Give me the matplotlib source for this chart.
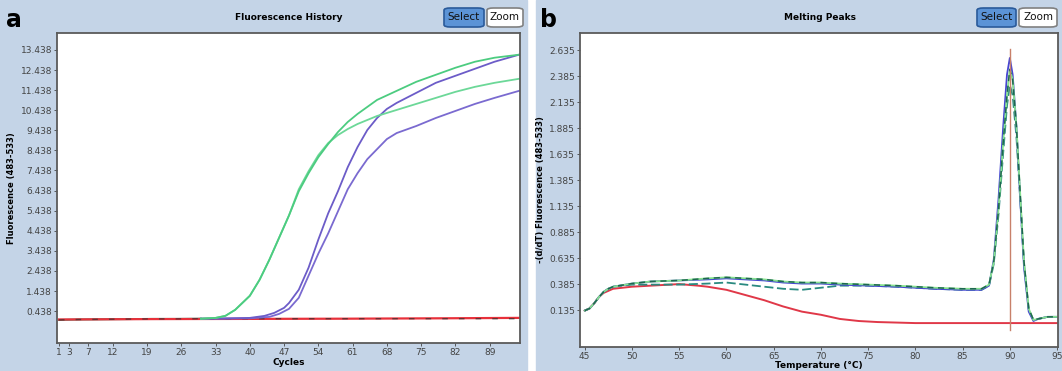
import matplotlib.pyplot as plt
from matplotlib.patches import Rectangle, FancyBboxPatch

# ---- panel a: amplification curves (cycle, fluorescence) ----
base_cyc = [1, 5, 10, 15, 20, 25, 30]
base_val = [0.0, 0.02, 0.03, 0.04, 0.05, 0.05, 0.06]

green1_cyc = [30, 33, 35, 37, 40, 42, 44, 46, 48, 50, 52, 54, 56, 58, 60, 62, 64, 66, 70, 74, 78, 82, 86, 90, 95]
green1_val = [0.06, 0.1, 0.2, 0.5, 1.2, 2.0, 3.0, 4.1, 5.2, 6.4, 7.3, 8.1, 8.75, 9.35, 9.85, 10.25, 10.6, 10.95,
              11.4, 11.85, 12.2, 12.55, 12.85, 13.05, 13.2]
green2_cyc = [30, 33, 35, 37, 40, 42, 44, 46, 48, 50, 52, 54, 56, 58, 60, 62, 64, 66, 70, 74, 78, 82, 86, 90, 95]
green2_val = [0.06, 0.1, 0.2, 0.5, 1.2, 2.0, 3.0, 4.1, 5.2, 6.5, 7.4, 8.2, 8.8, 9.2, 9.5, 9.75, 9.95, 10.15,
              10.45, 10.75, 11.05, 11.35, 11.6, 11.8, 12.0]
purple1_cyc = [30, 35, 40, 43, 45, 47, 48, 50, 52, 54, 56, 58, 60, 62, 64, 66, 68, 70, 74, 78, 82, 86, 90, 95]
purple1_val = [0.06, 0.07, 0.1, 0.2, 0.35, 0.6, 0.84, 1.5, 2.6, 4.0, 5.3, 6.4, 7.6, 8.6, 9.45, 10.05, 10.5, 10.8,
               11.3, 11.8, 12.15, 12.5, 12.85, 13.2]
purple2_cyc = [30, 35, 40, 44, 46, 48, 50, 52, 54, 56, 58, 60, 62, 64, 66, 68, 70, 74, 78, 82, 86, 90, 95]
purple2_val = [0.06, 0.07, 0.08, 0.15, 0.3, 0.55, 1.1, 2.2, 3.3, 4.3, 5.4, 6.5, 7.3, 8.0, 8.5, 9.0, 9.3, 9.65,
               10.05, 10.4, 10.75, 11.05, 11.4]
red_cyc = [1, 20, 40, 60, 80, 95]
red_val = [0.02, 0.04, 0.05, 0.06, 0.08, 0.1]

a_yticks = [0.438 + k for k in range(14)]
a_xticks = [1, 3, 7, 12, 19, 26, 33, 40, 47, 54, 61, 68, 75, 82, 89]

# ---- panel b: melting peaks (temperature, -dF/dT) ----
temp = [45, 45.5, 46, 46.5, 47, 47.5, 48, 50, 52, 55, 58, 60, 62, 64, 66, 68, 70, 72, 75, 78, 80, 82, 85, 87,
        87.8, 88.3, 88.8, 89.3, 89.7, 90.0, 90.3, 90.7, 91.1, 91.5, 92.0, 92.5, 93, 94, 95]
green_b = [0.13, 0.15, 0.2, 0.26, 0.31, 0.34, 0.36, 0.39, 0.41, 0.42, 0.44, 0.45, 0.44, 0.43, 0.41, 0.40, 0.40,
           0.39, 0.38, 0.37, 0.36, 0.35, 0.34, 0.34, 0.38, 0.6, 1.1, 1.75, 2.2, 2.45, 2.35, 1.9, 1.25, 0.6,
           0.15, 0.04, 0.05, 0.07, 0.07]
blue_b = [0.13, 0.15, 0.2, 0.26, 0.31, 0.34, 0.36, 0.39, 0.41, 0.42, 0.43, 0.44, 0.43, 0.42, 0.40, 0.39, 0.39,
          0.38, 0.37, 0.36, 0.35, 0.34, 0.33, 0.33, 0.37, 0.62, 1.2, 1.9, 2.4, 2.56, 2.4, 1.9, 1.2, 0.55,
          0.12, 0.03, 0.05, 0.07, 0.07]
teal_b = [0.13, 0.15, 0.2, 0.26, 0.31, 0.34, 0.36, 0.38, 0.38, 0.38, 0.39, 0.40, 0.38, 0.36, 0.34, 0.33, 0.35,
          0.37, 0.37, 0.36, 0.35, 0.34, 0.33, 0.33, 0.37, 0.58, 1.05, 1.65, 2.1, 2.3, 2.2, 1.8, 1.2, 0.58,
          0.14, 0.04, 0.05, 0.07, 0.07]
red_temp = [45, 45.5, 46, 46.5, 47, 47.5, 48, 50, 52, 55, 57, 58, 60, 62, 64, 66, 68, 70, 72, 74, 76, 80, 85, 90, 95]
red_b = [0.13, 0.15, 0.2, 0.26, 0.3, 0.32, 0.34, 0.36, 0.37, 0.385, 0.37, 0.36, 0.33, 0.28, 0.23, 0.17, 0.12,
         0.09, 0.05, 0.03, 0.02, 0.01, 0.01, 0.01, 0.01]
peak_temp = 90.0

b_yticks = [0.135 + 0.25 * k for k in range(11)]
b_xticks = [45, 50, 55, 60, 65, 70, 75, 80, 85, 90, 95]

W, H = 1062, 371
panel_bg = '#c4d4e7'
fig = plt.figure(figsize=(W / 100, H / 100), dpi=100, facecolor='white')


def px(x, y):
    return x / W, 1 - y / H


fig.add_artist(Rectangle((0, 0), 527 / W, 1, transform=fig.transFigure, color=panel_bg, zorder=-5))
fig.add_artist(Rectangle((536 / W, 0), 1 - 536 / W, 1, transform=fig.transFigure, color=panel_bg, zorder=-5))


def button(x0, x1, label, fill, edge):
    fig.add_artist(FancyBboxPatch(px(x0, 27), (x1 - x0) / W, 19 / H, boxstyle='round,pad=0,rounding_size=0.006',
                                  transform=fig.transFigure, facecolor=fill, edgecolor=edge, lw=1.2, zorder=2))
    fig.text((x0 + x1) / 2 / W, 1 - 17.5 / H, label, ha='center', va='center', fontsize=7.5, color='#111')


def style(ax):
    ax.set_facecolor('white')
    for s in ax.spines.values():
        s.set_color('#5a5a5a')
        s.set_linewidth(1.3)
    ax.tick_params(labelsize=6.5, colors='#444', length=2, width=0.6, pad=1.5)


# panel a
ax = fig.add_axes([57 / W, 1 - 343 / H, 463 / W, 310 / H])
style(ax)
ax.plot(base_cyc, base_val, color='#2a7a5a', lw=1.4)
ax.plot(red_cyc, red_val, color='#e8303a', lw=1.6)
ax.plot(base_cyc + [33, 40, 47, 54, 61, 68, 75, 82, 89, 95], base_val + [0.06] * 10,
        color='#303030', lw=1.0, ls=(0, (4, 8)), alpha=0.7)
ax.plot(purple2_cyc, purple2_val, color='#7a6ad0', lw=1.3)
ax.plot(purple1_cyc, purple1_val, color='#6c5cc8', lw=1.3)
ax.plot(green2_cyc, green2_val, color='#6cd898', lw=1.3)
ax.plot(green1_cyc, green1_val, color='#4ccc80', lw=1.3)
ax.set_xlim(0.6, 95.2)
ax.set_ylim(-1.15, 14.28)
ax.set_yticks(a_yticks)
ax.set_yticklabels([f'{v:.3f}' for v in a_yticks])
ax.set_xticks(a_xticks)
ax.set_xlabel('Cycles', fontsize=6.5, fontweight='bold', labelpad=1)
ax.set_ylabel('Fluorescence (483-533)', fontsize=6, fontweight='bold', labelpad=3)

# panel b
bx = fig.add_axes([580 / W, 1 - 347 / H, 478 / W, 314 / H])
style(bx)
bx.plot(red_temp, red_b, color='#e03848', lw=1.4)
bx.plot(temp, teal_b, color='#2a8a80', lw=1.3, ls=(0, (5, 2)))
bx.plot(temp, blue_b, color='#4646d2', lw=1.3)
bx.plot(temp, green_b, color='#86e28e', lw=1.3)
bx.plot(temp, green_b, color='#1e6650', lw=1.1, ls=(0, (4, 3)))
bx.plot([peak_temp, peak_temp], [-0.06, 2.65], color='#c8806a', lw=1.0)
bx.set_xlim(44.5, 95.1)
bx.set_ylim(-0.22, 2.80)
bx.set_yticks(b_yticks)
bx.set_yticklabels([f'{v:.3f}' for v in b_yticks])
bx.set_xticks(b_xticks)
bx.set_xlabel('Temperature (°C)', fontsize=6.5, fontweight='bold', labelpad=0)
bx.set_ylabel('-(d/dT) Fluorescence (483-533)', fontsize=6, fontweight='bold', labelpad=3)

# titles, letters, buttons
fig.text(289 / W, 1 - 18 / H, 'Fluorescence History', ha='center', va='center', fontsize=6.5, fontweight='bold')
fig.text(820 / W, 1 - 18 / H, 'Melting Peaks', ha='center', va='center', fontsize=6.5, fontweight='bold')
fig.text(6 / W, 1 - 20 / H, 'a', ha='left', va='center', fontsize=17, fontweight='bold')
fig.text(540 / W, 1 - 20 / H, 'b', ha='left', va='center', fontsize=17, fontweight='bold')
button(444, 484, 'Select', '#5b93d6', '#2a5a9a')
button(487, 523, 'Zoom', 'white', '#808080')
button(977, 1016, 'Select', '#5b93d6', '#2a5a9a')
button(1019, 1057, 'Zoom', 'white', '#808080')

fig.savefig('out.png', dpi=100, facecolor=fig.get_facecolor())
